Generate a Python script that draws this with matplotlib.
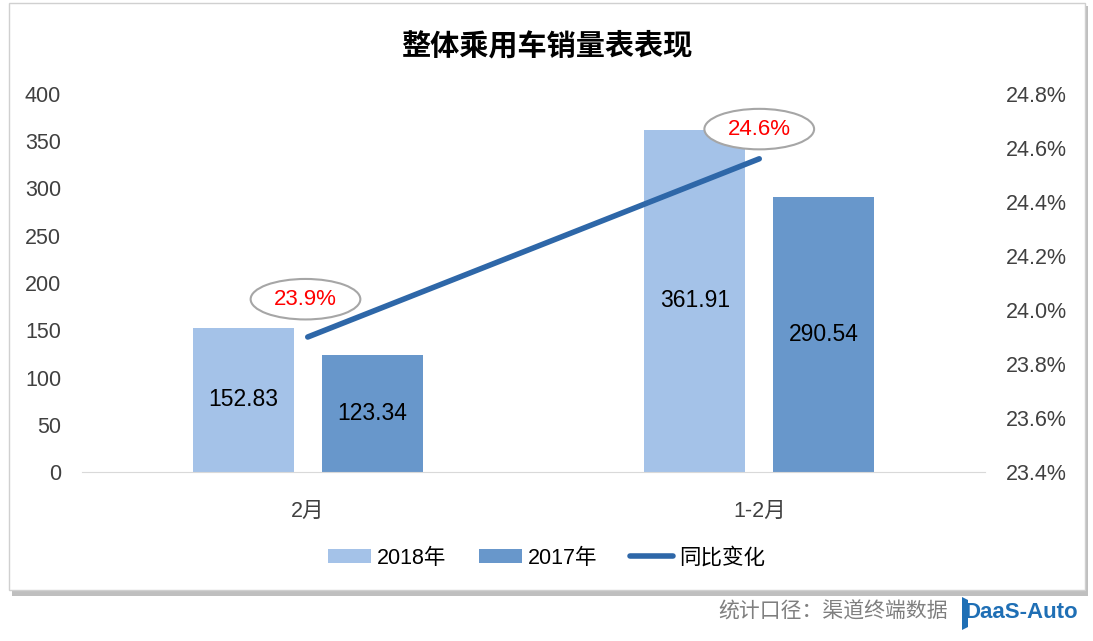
import matplotlib.pyplot as plt
from matplotlib.patches import Ellipse, Rectangle, Polygon
from matplotlib.ticker import FuncFormatter
import numpy as np

plt.rcParams['font.family'] = ['Noto Sans CJK SC', 'DejaVu Sans']

categories = ['2月', '1-2月']
sales_2018 = [152.83, 361.91]
sales_2017 = [123.34, 290.54]
yoy_pct = [23.9, 24.56]
yoy_labels = ['23.9%', '24.6%']

c2018 = '#A4C2E8'
c2017 = '#6897CB'
cline = '#2E67A8'

W, H = 1093, 641
fig = plt.figure(figsize=(W / 100, H / 100), dpi=100)

# background: chart frame with shadow, footer logo
bg = fig.add_axes([0, 0, 1, 1], zorder=-10)
bg.set_xlim(0, W)
bg.set_ylim(H, 0)
bg.axis('off')
bg.add_patch(Rectangle((12, 6), 1076, 590, facecolor='#BFBFBF', edgecolor='none'))
bg.add_patch(Rectangle((9, 3), 1076, 587, facecolor='white', edgecolor='#D0D0D0', lw=1))
bg.add_patch(Polygon([(962, 597), (968, 600), (968, 627), (962, 630)], closed=True,
                     facecolor='#1F6FB5', edgecolor='none'))

ax = fig.add_axes([82 / W, 1 - 472 / H, 903 / W, 378 / H], zorder=1)
ax.set_facecolor('none')
x = np.arange(len(categories))
w = 0.224
b1 = ax.bar(x - 0.143, sales_2018, w, color=c2018, label='2018年', zorder=2)
b2 = ax.bar(x + 0.143, sales_2017, w, color=c2017, label='2017年', zorder=2)
for bars in (b1, b2):
    for r in bars:
        ax.text(r.get_x() + r.get_width() / 2, r.get_height() / 2, f'{r.get_height():.2f}',
                ha='center', va='center', fontsize=16.5, color='black', family='Liberation Sans', zorder=3)

ax.set_xlim(-0.5, 1.5)
ax.set_ylim(0, 400)
ax.set_yticks(range(0, 401, 50))
ax.set_xticks(x)
ax.set_xticklabels(categories, fontsize=15.5)
for lab in ax.get_xticklabels():
    lab.set_family(['Liberation Sans', 'Noto Sans CJK SC'])
ax.tick_params(axis='x', length=0, pad=21, colors='#404040')
ax.tick_params(axis='y', length=0, pad=15, labelsize=15.5, colors='#404040')
for lab in ax.get_yticklabels():
    lab.set_family('Liberation Sans')
for s in ['top', 'right', 'left']:
    ax.spines[s].set_visible(False)
ax.spines['bottom'].set_color('#D9D9D9')

ax2 = ax.twinx()
ax2.set_ylim(23.4, 24.8)
ax2.set_yticks(np.arange(23.4, 24.81, 0.2))
ax2.yaxis.set_major_formatter(FuncFormatter(lambda v, p: f'{v:.1f}%'))
ax2.tick_params(axis='y', length=0, pad=15, labelsize=15.5, colors='#404040')
for lab in ax2.get_yticklabels():
    lab.set_family('Liberation Sans')
for s in ax2.spines.values():
    s.set_visible(False)
line, = ax2.plot(x, yoy_pct, color=cline, lw=4, solid_capstyle='round', label='同比变化', zorder=4)

# red labels with grey ellipses
label_pos = [(x[0] - 0.005, 24.04), (x[1], 24.67)]
for (lx, ly), txt in zip(label_pos, yoy_labels):
    ax2.add_patch(Ellipse((lx, ly), 0.243, 0.15, facecolor='white', edgecolor='#A6A6A6', lw=1.5, zorder=5))
    ax2.text(lx, ly, txt, ha='center', va='center', color='red', fontsize=16,
             family='Liberation Sans', zorder=6)

handles = [b1, b2, line]
leg = fig.legend(handles, ['2018年', '2017年', '同比变化'], loc='center', bbox_to_anchor=(0.5, 1 - 558 / H),
                 ncol=3, frameon=False, fontsize=15.5, handlelength=2.0, handleheight=0.6, columnspacing=1.5,
                 handletextpad=0.3)
for t in leg.get_texts():
    t.set_family(['Liberation Sans', 'Noto Sans CJK SC'])

fig.text(0.5, 1 - 45 / H, '整体乘用车销量表表现', ha='center', va='center', fontsize=21,
         fontweight='bold', color='black')

# footer
fig.text(948 / W, 1 - 612 / H, '统计口径：渠道终端数据', ha='right', va='center', fontsize=15, color='#7F7F7F')
fig.text(965 / W, 1 - 612 / H, 'DaaS-Auto', ha='left', va='center', fontsize=16, fontweight='bold',
         color='#1F6FB5', family='Liberation Sans')

fig.savefig('out.png', dpi=100)
